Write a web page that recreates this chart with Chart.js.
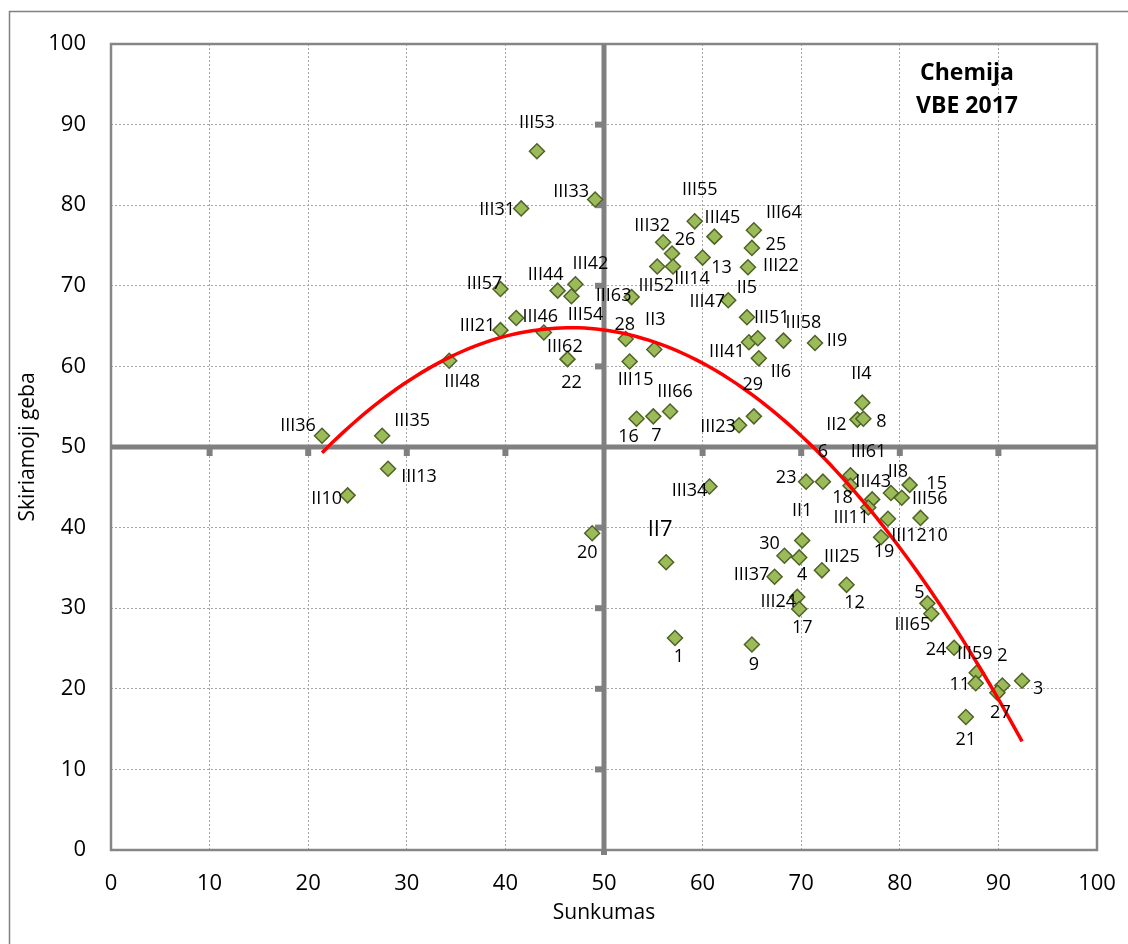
<!DOCTYPE html>
<html>
<head>
<meta charset="utf-8">
<script src="https://cdn.jsdelivr.net/npm/chart.js@4.4.0/dist/chart.umd.min.js"></script>
<style>
  html, body { margin: 0; padding: 0; background: #fff; }
</style>
</head>
<body>
<canvas id="chart" width="1128" height="944"></canvas>
<script>
// task labels
const names = ['III36','III35','III13','II10','III48','III21','III57','III46','III31','III53',
  'III44','III42','III54','III62','22','III33','III63','28','III15','II3',
  '16','7','III66','III23','29','II6','II2','8','II4','23',
  '6','III61','18','III34','III43','III11','II8','15','III56','10',
  'III12','19','II1','30','4','III25','III37','12','III24','17',
  'II7','5','III65','24','1','9','III59','11','2','27',
  '3','21','20','III55','III45','III64','25','III22','13','III32',
  '26','III52','III14','III47','II5','III41','III51','III58','II9'];

// Sunkumas (x)
const sunkumas = [21.4,27.5,28.1,24.0,34.3,39.5,39.5,41.1,41.6,43.2,
  45.3,47.1,46.7,43.9,46.3,49.1,52.8,52.2,52.6,55.1,
  53.3,55.0,56.7,63.7,65.2,65.7,75.7,76.3,76.2,70.5,
  72.2,75.0,75.0,60.7,77.2,76.8,79.1,81.0,80.2,82.1,
  78.8,78.1,70.1,68.3,69.8,72.1,67.3,74.6,69.6,69.8,
  56.3,82.8,83.2,85.5,57.2,65.0,87.8,87.7,90.4,89.9,
  92.4,86.7,48.8,59.2,61.2,65.2,65.0,64.6,60.0,56.0,
  56.9,55.4,57.0,62.6,64.5,64.7,65.6,68.2,71.4];

// Skiriamoji geba (y)
const geba = [51.4,51.4,47.3,44.0,60.7,64.5,69.6,66.0,79.6,86.7,
  69.4,70.2,68.7,64.2,60.9,80.7,68.6,63.4,60.6,62.1,
  53.5,53.8,54.4,52.7,53.8,61.0,53.4,53.5,55.5,45.7,
  45.7,46.5,45.2,45.1,43.5,42.5,44.3,45.3,43.7,41.2,
  41.1,38.8,38.4,36.5,36.3,34.7,33.9,32.9,31.4,29.9,
  35.7,30.6,29.3,25.1,26.3,25.5,22.0,20.7,20.4,19.5,
  21.0,16.5,39.3,78.0,76.1,76.9,74.7,72.3,73.5,75.4,
  74.0,72.4,72.4,68.2,66.1,63.0,63.5,63.2,62.9];

const ticks = [0,10,20,30,40,50,60,70,80,90,100];

// label placement, pixels from the marker (same order as names)
const labelOffsets = [[-24,-10],[30,-15],[31,8],[-21,4],[13,21],[-23,-4],[-16,-5],[24,-1],[-24,1],[0,-28],
  [-12,-16],[15,-20],[14,19],[21,14],[4,24],[-24,-8],[-18,-1],[-1,-14],[6,18],[1,-30],
  [-8,18],[3,20],[5,-20],[-21,2],[-1,-31],[22,14],[-21,5],[18,3],[-1,-29],[-20,-4],
  [0,-30],[18,-23],[-8,12],[-20,4],[1,-18],[-17,10],[7,-21],[27,-1],[28,1],[17,18],
  [21,17],[3,15],[0,-30],[-15,-12],[3,17],[20,-13],[-23,-2],[8,18],[-19,5],[3,19],
  [-6,-33],[-8,-10],[-19,11],[-18,2],[4,19],[2,20],[-2,-19],[-16,2],[0,-30],[3,20],
  [16,8],[0,23],[-5,20],[5,-31],[8,-19],[30,-17],[24,-3],[33,-1],[19,10],[-11,-16],
  [13,-14],[-1,19],[19,12],[-21,2],[0,-29],[-22,10],[14,-20],[20,-18],[22,-2]];

// 2nd order polynomial trend line, least squares from the points
function polyFit(xs, ys) {
  let s = [0,0,0,0,0], t = [0,0,0];
  xs.forEach((x, i) => {
    let p = 1;
    for (let k = 0; k < 5; k++) { s[k] += p; if (k < 3) t[k] += p * ys[i]; p *= x; }
  });
  const m = [[s[0],s[1],s[2],t[0]],[s[1],s[2],s[3],t[1]],[s[2],s[3],s[4],t[2]]];
  for (let i = 0; i < 3; i++) {
    for (let j = i + 1; j < 3; j++) {
      const f = m[j][i] / m[i][i];
      for (let k = i; k < 4; k++) m[j][k] -= f * m[i][k];
    }
  }
  const c = [0,0,0];
  for (let i = 2; i >= 0; i--) {
    let v = m[i][3];
    for (let k = i + 1; k < 3; k++) v -= m[i][k] * c[k];
    c[i] = v / m[i][i];
  }
  return c;
}
const coef = polyFit(sunkumas, geba);
const xMin = Math.min(...sunkumas), xMax = Math.max(...sunkumas);
const trend = [];
for (let x = xMin; x <= xMax + 0.001; x += (xMax - xMin) / 60) {
  trend.push({ x: x, y: coef[0] + coef[1] * x + coef[2] * x * x });
}

const FONT = "'Open Sans', 'Liberation Sans', sans-serif";

const decor = {
  id: 'decor',
  beforeDatasetsDraw(chart) {
    const { ctx, chartArea: a, scales: { x, y } } = chart;
    ctx.save();
    // plot border
    ctx.strokeStyle = '#868686';
    ctx.lineWidth = 2.5;
    ctx.strokeRect(a.left, a.top, a.right - a.left, a.bottom - a.top);
    // thick axes crossing at 50 / 50
    const x50 = x.getPixelForValue(50), y50 = y.getPixelForValue(50);
    ctx.strokeStyle = '#808080';
    ctx.fillStyle = '#808080';
    ctx.lineWidth = 5;
    ctx.beginPath();
    ctx.moveTo(x50, a.top); ctx.lineTo(x50, a.bottom);
    ctx.moveTo(a.left, y50); ctx.lineTo(a.right, y50);
    ctx.stroke();
    ticks.forEach(v => {
      if (v === 0 || v === 100 || v === 50) return;
      const py = y.getPixelForValue(v);
      ctx.fillRect(x50 - 9, py - 3, 7, 6);
      const px = x.getPixelForValue(v);
      ctx.fillRect(px - 3, y50 + 2, 6, 7);
    });
    ctx.fillRect(x50 - 3, a.bottom, 6, 5);
    ctx.restore();
  },
  afterDatasetsDraw(chart) {
    const { ctx, scales: { x, y } } = chart;
    ctx.save();
    ctx.fillStyle = '#000';
    ctx.textAlign = 'center';
    ctx.textBaseline = 'middle';
    names.forEach((n, i) => {
      const px = x.getPixelForValue(sunkumas[i]);
      const py = y.getPixelForValue(geba[i]);
      const o = labelOffsets[i];
      ctx.font = (n === 'II7' ? '22px ' : '18px ') + FONT;
      ctx.fillText(n, px + o[0], py + o[1]);
    });
    // title box
    ctx.font = 'bold 23px ' + FONT;
    ctx.fillText('Chemija', 967, 73);
    ctx.fillText('VBE 2017', 967, 106);
    ctx.restore();
  },
  afterDraw(chart) {
    const { ctx } = chart;
    ctx.save();
    ctx.strokeStyle = '#808080';
    ctx.lineWidth = 1.5;
    ctx.strokeRect(9.5, 11.5, 1130, 940);
    ctx.restore();
  }
};

new Chart(document.getElementById('chart'), {
  type: 'scatter',
  data: {
    datasets: [
      {
        type: 'line',
        label: 'Trend',
        data: trend,
        borderColor: '#ff0000',
        borderWidth: 3.5,
        pointRadius: 0,
        tension: 0.3,
        fill: false
      },
      {
        label: 'Uzdaviniai',
        data: sunkumas.map((v, i) => ({ x: v, y: geba[i] })),
        pointStyle: 'rectRot',
        pointRadius: 7.5,
        pointBackgroundColor: '#9bbb59',
        pointBorderColor: '#4f6228',
        pointBorderWidth: 1.5
      }
    ]
  },
  options: {
    responsive: false,
    animation: false,
    layout: { padding: { left: 0, top: 44, right: 31, bottom: 0 } },
    plugins: {
      legend: { display: false },
      tooltip: { enabled: false }
    },
    scales: {
      x: {
        type: 'linear',
        min: 0, max: 100,
        afterBuildTicks: s => { s.ticks = ticks.map(v => ({ value: v })); },
        afterFit: s => { s.height = 94; s.paddingLeft = 0; s.paddingRight = 0; },
        grid: { color: '#a6a6a6', lineWidth: 1, drawTicks: false },
        border: { display: false, dash: [2, 2] },
        ticks: { padding: 21, color: '#000', font: { family: FONT, size: 22 } },
        title: { display: true, text: 'Sunkumas', color: '#000', padding: { top: 0, bottom: 18 }, font: { family: FONT, size: 21 } }
      },
      y: {
        type: 'linear',
        min: 0, max: 100,
        afterBuildTicks: s => { s.ticks = ticks.map(v => ({ value: v })); },
        afterFit: s => { s.width = 111; s.paddingTop = 0; s.paddingBottom = 0; },
        grid: { color: '#a6a6a6', lineWidth: 1, drawTicks: false },
        border: { display: false, dash: [2, 2] },
        ticks: { padding: 25, color: '#000', font: { family: FONT, size: 22 } },
        title: { display: true, text: 'Skiriamoji geba', color: '#000', padding: { top: 15, bottom: 0 }, font: { family: FONT, size: 21 } }
      }
    }
  },
  plugins: [decor]
});
</script>
</body>
</html>
